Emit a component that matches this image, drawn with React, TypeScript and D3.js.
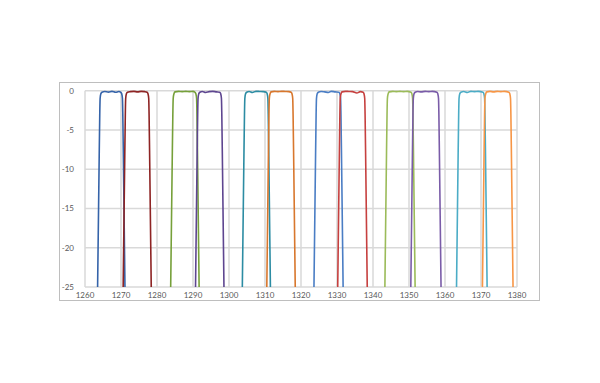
import React from "react";
import * as d3 from "d3";

const xTicks = [1260, 1270, 1280, 1290, 1300, 1310, 1320, 1330, 1340, 1350, 1360, 1370, 1380];
const yTicks = [0, -5, -10, -15, -20, -25];

const ch1: [number, number][] = [[1263.5,-25],[1263.9,-10],[1264.1,-3],[1264.2,-1],[1264.4,-0.4],[1264.7,-0.2],[1265.5,-0.1],[1266.5,-0.18],[1267.5,-0.08],[1268.5,-0.2],[1269.4,-0.1],[1269.95,-0.2],[1270.2,-0.4],[1270.4,-1],[1270.5,-3],[1270.7,-10],[1271.1,-25]];
const ch2: [number, number][] = [[1270.6,-25],[1271.0,-10],[1271.2,-3],[1271.3,-1],[1271.5,-0.4],[1271.8,-0.2],[1272.6,-0.12],[1273.6,-0.08],[1274.6,-0.15],[1275.6,-0.08],[1276.6,-0.12],[1277.25,-0.2],[1277.5,-0.4],[1277.7,-1],[1277.8,-3],[1278.0,-10],[1278.4,-25]];
const ch3: [number, number][] = [[1283.8,-25],[1284.2,-10],[1284.4,-3],[1284.5,-1],[1284.7,-0.4],[1285.0,-0.15],[1286,-0.08],[1287,-0.12],[1288,-0.08],[1289,-0.12],[1290,-0.08],[1290.55,-0.2],[1290.8,-0.4],[1291.0,-1],[1291.1,-3],[1291.3,-10],[1291.7,-25]];
const ch4: [number, number][] = [[1290.7,-25],[1291.1,-10],[1291.3,-3],[1291.4,-1],[1291.6,-0.4],[1291.9,-0.2],[1292.6,-0.1],[1293.5,-0.22],[1294.5,-0.12],[1295.5,-0.08],[1296.5,-0.15],[1297.45,-0.2],[1297.7,-0.4],[1297.9,-1],[1298.0,-3],[1298.2,-10],[1298.6,-25]];
const ch5: [number, number][] = [[1303.7,-25],[1304.1,-10],[1304.3,-3],[1304.4,-1],[1304.6,-0.4],[1304.9,-0.2],[1305.6,-0.1],[1306.5,-0.22],[1307.5,-0.08],[1308.5,-0.1],[1309.5,-0.12],[1310.35,-0.2],[1310.6,-0.4],[1310.8,-1],[1310.9,-3],[1311.1,-10],[1311.5,-25]];
const ch6: [number, number][] = [[1310.5,-25],[1310.9,-10],[1311.1,-3],[1311.2,-1],[1311.4,-0.4],[1311.7,-0.15],[1312.6,-0.08],[1313.6,-0.12],[1314.6,-0.08],[1315.6,-0.1],[1316.6,-0.12],[1317.25,-0.2],[1317.5,-0.4],[1317.7,-1],[1317.8,-3],[1318.0,-10],[1318.4,-25]];
const ch7: [number, number][] = [[1323.6,-25],[1324.0,-10],[1324.2,-3],[1324.3,-1],[1324.5,-0.4],[1324.8,-0.2],[1325.6,-0.1],[1326.6,-0.15],[1327.6,-0.22],[1328.4,-0.08],[1329.5,-0.15],[1330.55,-0.2],[1330.8,-0.4],[1331.0,-1],[1331.1,-3],[1331.3,-10],[1331.7,-25]];
const ch8: [number, number][] = [[1330.2,-25],[1330.6,-10],[1330.8,-3],[1330.9,-1],[1331.1,-0.4],[1331.4,-0.15],[1332.3,-0.08],[1333.3,-0.1],[1334.3,-0.12],[1335.5,-0.3],[1336.5,-0.12],[1337.25,-0.2],[1337.5,-0.4],[1337.7,-1],[1337.8,-3],[1338.0,-10],[1338.4,-25]];
const ch9: [number, number][] = [[1343.3,-25],[1343.7,-10],[1343.9,-3],[1344.0,-1],[1344.2,-0.4],[1344.5,-0.15],[1345.5,-0.08],[1346.5,-0.12],[1347.5,-0.08],[1348.5,-0.12],[1349.5,-0.08],[1350.55,-0.2],[1350.8,-0.4],[1351.0,-1],[1351.1,-3],[1351.3,-10],[1351.7,-25]];
const ch10: [number, number][] = [[1350.5,-25],[1350.9,-10],[1351.1,-3],[1351.2,-1],[1351.4,-0.4],[1351.7,-0.2],[1352.4,-0.1],[1353.4,-0.15],[1354.5,-0.08],[1355.5,-0.12],[1356.5,-0.08],[1357.75,-0.2],[1358.0,-0.4],[1358.2,-1],[1358.3,-3],[1358.5,-10],[1358.9,-25]];
const ch11: [number, number][] = [[1363.2,-25],[1363.6,-10],[1363.8,-3],[1363.9,-1],[1364.1,-0.4],[1364.4,-0.2],[1365.2,-0.1],[1366.2,-0.22],[1367.2,-0.08],[1368.2,-0.12],[1369.2,-0.08],[1370.55,-0.2],[1370.8,-0.4],[1371.0,-1],[1371.1,-3],[1371.3,-10],[1371.7,-25]];
const ch12: [number, number][] = [[1370.4,-25],[1370.8,-10],[1371.0,-3],[1371.1,-1],[1371.3,-0.4],[1371.6,-0.15],[1372.5,-0.08],[1373.5,-0.15],[1374.5,-0.08],[1375.5,-0.12],[1376.5,-0.08],[1377.75,-0.2],[1378.0,-0.4],[1378.2,-1],[1378.3,-3],[1378.5,-10],[1378.9,-25]];

const seriesData = [ch1, ch2, ch3, ch4, ch5, ch6, ch7, ch8, ch9, ch10, ch11, ch12];
const seriesColors = ["#3563A9", "#8E2424", "#76A03A", "#5E4690", "#2C8CA3", "#D8772D", "#4A7DC4", "#C6403F", "#9BBB59", "#7A5CA8", "#4BACC6", "#F79646"];

export default function App() {
  const W = 600, H = 383;
  const left = 85, right = 517, top = 90.7, bottom = 287;
  const x = d3.scaleLinear().domain([1260, 1380]).range([left, right]);
  const y = d3.scaleLinear().domain([-25, 0]).range([bottom, top]);
  const line = d3.line<[number, number]>().x(d => x(d[0])).y(d => y(d[1])).curve(d3.curveMonotoneX);
  const font = "Lato, 'Open Sans', sans-serif";
  return (
    <div style={{ position: "absolute", left: 0, top: 0 }}>
      <svg width={W} height={H} style={{ display: "block", background: "#fff" }}>
        <rect x={59.5} y={82.5} width={480} height={218} fill="#fff" stroke="#BEBEBE" strokeWidth={1} />
        <defs>
          <clipPath id="plot">
            <rect x={left - 2} y={top - 3} width={right - left + 4} height={bottom - top + 3} />
          </clipPath>
        </defs>
        {yTicks.map(t => (
          <line key={"gy" + t} x1={left} x2={right} y1={y(t)} y2={y(t)} stroke="#D9D9D9" strokeWidth={1.5} />
        ))}
        {xTicks.map(t => (
          <line key={"gx" + t} x1={x(t)} x2={x(t)} y1={top} y2={bottom} stroke="#D9D9D9" strokeWidth={1.5} />
        ))}
        <g clipPath="url(#plot)">
          {seriesData.map((s, i) => (
            <path key={i} d={line(s) || ""} fill="none" stroke={seriesColors[i]} strokeWidth={1.6} strokeLinejoin="round" />
          ))}
        </g>
        {yTicks.map(t => (
          <text key={"ty" + t} x={74} y={y(t) + 3} textAnchor="end" fontSize={8} fontFamily={font} fill="#595959">{t}</text>
        ))}
        {xTicks.map(t => (
          <text key={"tx" + t} x={x(t)} y={298} textAnchor="middle" fontSize={8} fontFamily={font} fill="#595959">{t}</text>
        ))}
      </svg>
    </div>
  );
}
